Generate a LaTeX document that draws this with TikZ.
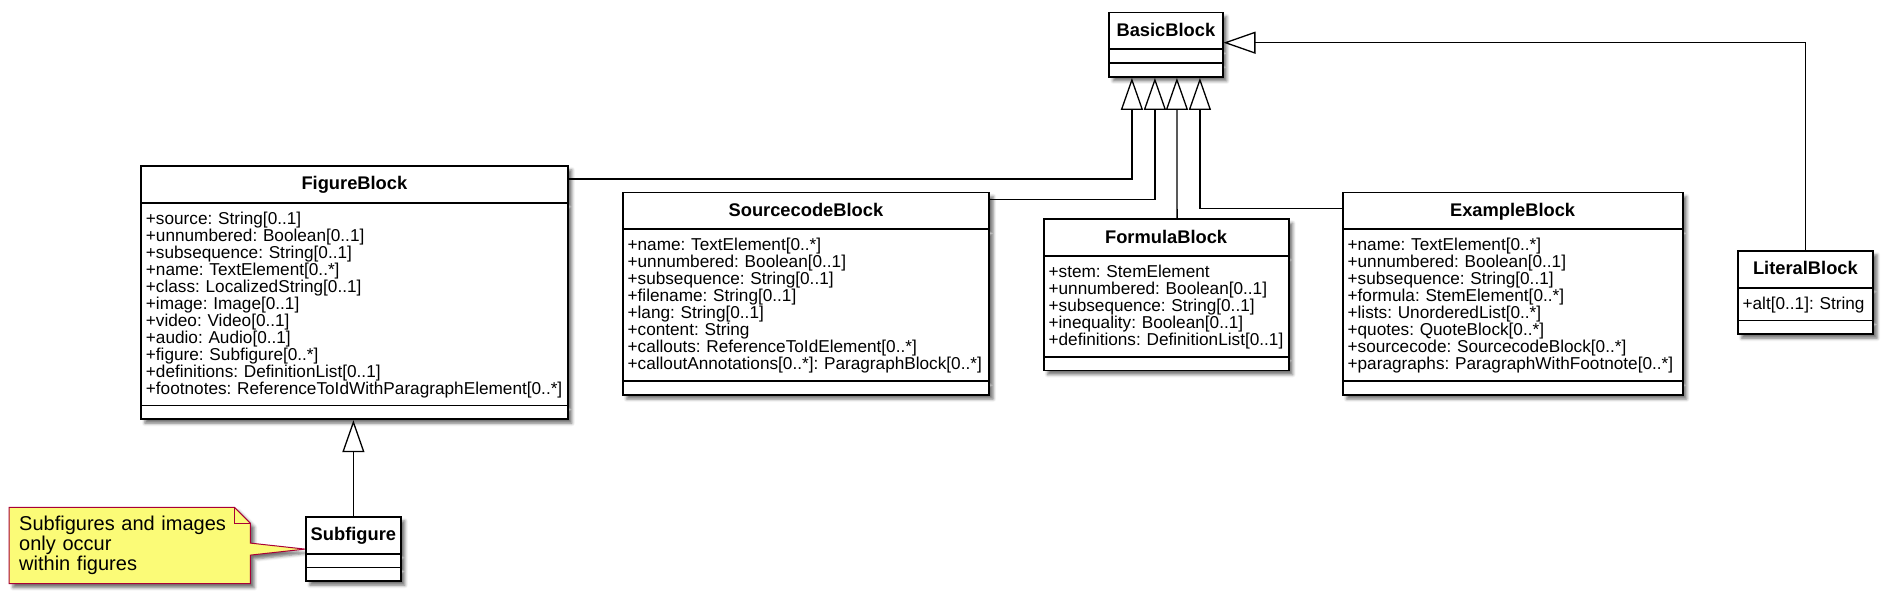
\documentclass[tikz,border=0pt]{standalone}
\usepackage{fontspec}
\setmainfont{Liberation Sans}
\frenchspacing
\usetikzlibrary{shapes.multipart,arrows.meta,shadows.blur,backgrounds}

\definecolor{noteyellow}{HTML}{FBFB77}
\definecolor{notered}{HTML}{A80036}

% struts for the compartments
\newcommand{\ttlstrut}{\rule[-6pt]{0pt}{23pt}}
\newcommand{\firststrut}{\rule{0pt}{14.5pt}}
\newcommand{\laststrut}{\rule[-4.5pt]{0pt}{4.5pt}}

% name, position, text width, title, attributes
\newcommand{\classbox}[5]{%
  \node[umlclass, text width=#3] (#1) at (#2)
    {\makebox[#3]{\ttlstrut\fontsize{18.3}{20}\selectfont\bfseries #4}%
     \nodepart{two}#5\nodepart{three}};}

\begin{document}
\begin{tikzpicture}[x=1pt, y=-1pt,
   umlclass/.style={rectangle split, rectangle split parts=3, draw, line width=1.8pt,
     fill=white, align=left, inner xsep=5pt, inner ysep=6pt, anchor=north west,
     font=\fontsize{17.2}{17}\selectfont\frenchspacing,
     blur shadow={shadow xshift=4pt, shadow yshift=-4pt, shadow blur radius=3pt, shadow opacity=55}},
   inherit/.style={line width=1.3pt, -{Triangle[fill=white, length=32pt, width=22pt]}},
   notetext/.style={anchor=north west, align=left, text width=221pt, inner xsep=10pt,
     inner ysep=0pt, minimum height=76pt, font=\fontsize{20}{20}\selectfont},
   notebox/.style={draw=notered, fill=noteyellow, line width=1pt,
     blur shadow={shadow xshift=4pt, shadow yshift=-4pt, shadow blur radius=3pt, shadow opacity=55}}]%
   % Page size of the reference (1 unit = 1 pixel)
   \useasboundingbox (0,0) rectangle (1888,601);

   % Classes
   \classbox{bb}{1108.3,11.7}{103.4pt}{BasicBlock}{}
   \classbox{fig}{140,165}{417pt}{FigureBlock}{\firststrut+source: String[0..1]\\
     +unnumbered: Boolean[0..1]\\
     +subsequence: String[0..1]\\
     +name: TextElement[0..*]\\
     +class: LocalizedString[0..1]\\
     +image: Image[0..1]\\
     +video: Video[0..1]\\
     +audio: Audio[0..1]\\
     +figure: Subfigure[0..*]\\
     +definitions: DefinitionList[0..1]\\
     +footnotes: ReferenceToIdWithParagraphElement[0..*]\laststrut}
   \classbox{sc}{621.7,191.7}{356.6pt}{SourcecodeBlock}{\firststrut+name: TextElement[0..*]\\
     +unnumbered: Boolean[0..1]\\
     +subsequence: String[0..1]\\
     +filename: String[0..1]\\
     +lang: String[0..1]\\
     +content: String\\
     +callouts: ReferenceToIdElement[0..*]\\
     +calloutAnnotations[0..*]: ParagraphBlock[0..*]\laststrut}
   \classbox{fb}{1042.7,218.3}{235pt}{FormulaBlock}{\firststrut+stem: StemElement\\
     +unnumbered: Boolean[0..1]\\
     +subsequence: String[0..1]\\
     +inequality: Boolean[0..1]\\
     +definitions: DefinitionList[0..1]\laststrut}
   \classbox{ex}{1341.7,191.7}{330pt}{ExampleBlock}{\firststrut+name: TextElement[0..*]\\
     +unnumbered: Boolean[0..1]\\
     +subsequence: String[0..1]\\
     +formula: StemElement[0..*]\\
     +lists: UnorderedList[0..*]\\
     +quotes: QuoteBlock[0..*]\\
     +sourcecode: SourcecodeBlock[0..*]\\
     +paragraphs: ParagraphWithFootnote[0..*]\laststrut}
   \classbox{lit}{1736.7,250}{125.6pt}{LiteralBlock}{\firststrut+alt[0..1]: String\laststrut}
   \classbox{sub}{305,516}{85pt}{Subfigure}{}

   % Generalizations
   \draw[inherit] ([yshift=-14pt]fig.north east) -| ([xshift=-34pt]bb.south);
   \draw[inherit] ([yshift=-8pt]sc.north east) -| ([xshift=-11pt]bb.south);
   \draw[inherit] ([xshift=11pt]fb.north) -- ([xshift=11pt]bb.south);
   \draw[inherit] ([yshift=-17pt]ex.north west) -| ([xshift=34pt]bb.south);
   \draw[inherit] (lit.north) |- ([yshift=-31pt]bb.north east);
   \draw[inherit] (sub.north) -- (sub.north |- fig.south);

   % Note
   \node[notetext] (note) at (9,507.3) {Subfigures and images\\only occur\\within figures};
   \coordinate (ptr) at (note.east |- sub.west);
   \begin{scope}[on background layer]
     \draw[notebox] (note.north west) -- ([xshift=-16pt]note.north east)
       -- ([yshift=-16pt]note.north east) -- ([yshift=6pt]ptr) -- (sub.west)
       -- ([yshift=-6pt]ptr) -- (note.south east) -- (note.south west) -- cycle;
     \draw[notered, line width=1pt] ([xshift=-16pt]note.north east) |- ([yshift=-16pt]note.north east);
   \end{scope}
\end{tikzpicture}
\end{document}
